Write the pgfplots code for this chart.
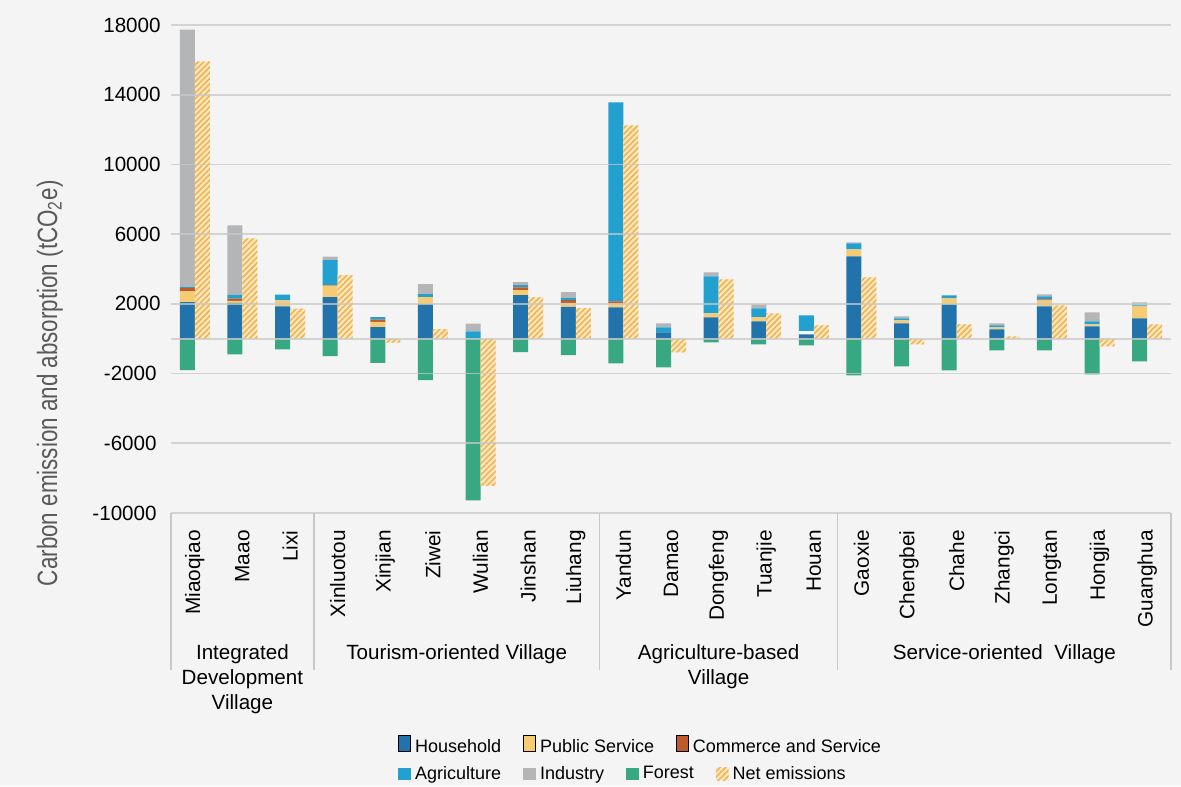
\documentclass[border=0pt]{standalone}
\usepackage{pgfplots}
\pgfplotsset{compat=1.18}
\usepackage{pgfplotstable}
\usepackage{fontspec}
\setmainfont{Liberation Sans}
\newfontfamily\condfont[FakeStretch=0.8]{Liberation Sans}
\usetikzlibrary{patterns.meta}

\definecolor{bg}{HTML}{F4F4F4}
\definecolor{hh}{HTML}{2273AB}
\definecolor{ps}{HTML}{F6CC72}
\definecolor{cs}{HTML}{BE5B2B}
\definecolor{ag}{HTML}{22A0CF}
\definecolor{ind}{HTML}{B4B5B7}
\definecolor{fo}{HTML}{38A883}
\definecolor{netbg}{HTML}{FDE8BC}
\definecolor{netln}{HTML}{EFB35A}
\definecolor{gridc}{HTML}{C8C8C8}
\definecolor{ylab}{HTML}{595959}

\pgfplotstableread{
x  H    G   PS  C   A     I     F     N
0  2100 0   610 190 60    14780 -1800 15910
1  2050 0   120 130 210   3990  -900  5760
2  1855 0   340 0   340   0     -610  1720
3  2390 0   650 40  1435  190   -995  3650
4  670  0   290 135 150   0     -1380 -230
5  1990 0   400 0   170   575   -2380 555
6  0    0   0   0   420   440   -9270 -8440
7  2505 0   290 150 135   170   -765  2390
8  1820 0   230 170 115   345   -940  1760
9  1800 0   210 135 11415 0     -1415 12240
10 365  0   0   0   290   230   -1645 -785
11 1225 0   230 0   2125  230   -210  3405
12 995  0   230 0   515   230   -325  1455
13 250  170 0   0   920   0     -380  765
14 4725 0   400 0   345   60    -2105 3520
15 880  0   170 0   115   115   -1590 -325
16 1970 0   345 0   170   0     -1820 825
17 535  0   115 0   115   115   -670  135
18 1855 0   345 60  170   115   -670  1910
19 710  0   115 0   170   515   -2045 -440
20 1165 0   690 0   60    170   -1300 825
}\data

\pgfplotsset{
  base/.style={
    width=500pt, height=244pt, scale only axis,
    at={(0,0)}, anchor=south west,
    xmin=-0.5, xmax=20.5, ymin=-10000, ymax=18000,
    axis line style={draw=none},
    scaled y ticks=false,
    font=\fontsize{10}{12}\selectfont,
    legend image code/.code={\fill[##1] (0pt,-3.2pt) rectangle (6.4pt,3.2pt);},
    legend style={draw=none, fill=none, inner sep=0pt,
      font=\fontsize{9}{10}\selectfont,
      /tikz/every even column/.append style={column sep=9pt}},
    legend cell align=left,
  }
}

\begin{document}
\begin{tikzpicture}
\path[use as bounding box, fill=bg] (-85.5pt,-136.5pt) rectangle (505pt,256.5pt);

% stacked positive emissions
\begin{axis}[base,
  ybar stacked, bar width=7.5pt, bar shift=-3.75pt,
  xtick=\empty, ytick=\empty,
  legend columns=3,
  legend style={at={(axis description cs:0.227,-0.4805)}, anchor=west},
]
\addplot[fill=hh, draw=none] table[x=x,y=H]{\data};
\addplot[fill=white, draw=none, forget plot] table[x=x,y=G]{\data};
\addplot[fill=ps, draw=none] table[x=x,y=PS]{\data};
\addplot[fill=cs, draw=none] table[x=x,y=C]{\data};
\addplot[fill=ag, draw=none, forget plot] table[x=x,y=A]{\data};
\addplot[fill=ind, draw=none, forget plot] table[x=x,y=I]{\data};
\legend{Household, Public Service, Commerce and Service}
\end{axis}

% forest and net emissions, grid, labels
\begin{axis}[base,
  clip=false, axis on top,
  ytick={-10000,-6000,-2000,2000,6000,10000,14000,18000},
  yticklabels={-10000\kern2pt,-6000\kern2pt,-2000\kern2pt,2000,6000,10000,14000,18000},
  extra y ticks={0}, extra y tick labels={},
  ymajorgrids,
  grid style={gridc, opacity=0.75, line width=0.8pt},
  major tick length=0pt,
  yticklabel style={inner sep=0pt, xshift=-5pt, font=\fontsize{10.3}{12}\selectfont},
  xtick={0,...,20},
  xticklabels={Miaoqiao,Maao,Lixi,Xinluotou,Xinjian,Ziwei,Wulian,Jinshan,Liuhang,Yandun,Damao,Dongfeng,Tuanjie,Houan,Gaoxie,Chengbei,Chahe,Zhangci,Longtan,Hongjia,Guanghua},
  xticklabel style={rotate=90, anchor=east, inner sep=0pt, font=\fontsize{10.4}{12}\selectfont},
  xticklabel shift=8.5pt,
  ylabel={\condfont Carbon emission and absorption (tCO\textsubscript{2}e)},
  every axis y label/.style={at={(axis description cs:-0.121,0.266)}, rotate=90, anchor=center, font=\fontsize{14}{16}\selectfont, color=ylab},
  legend columns=4,
  legend style={at={(axis description cs:0.227,-0.535)}, anchor=west},
]
\addlegendimage{fill=ag, draw=none}
\addlegendimage{fill=ind, draw=none}
\addplot[ybar, bar width=7.5pt, bar shift=-3.75pt, fill=fo, draw=none] table[x=x,y=F]{\data};
\addplot[ybar, bar width=7.5pt, bar shift=3.75pt, fill=netbg, draw=none,
  postaction={pattern={Lines[angle=45,distance=2pt,line width=0.8pt]}, pattern color=netln}] table[x=x,y=N]{\data};
\legend{Agriculture, Industry, Forest, Net emissions}

\draw[gridc, line width=0.8pt] (axis cs:-0.5,-10000) -- ++(0pt,-78.5pt);
\draw[gridc, line width=0.8pt] (axis cs:2.5,-10000) -- ++(0pt,-78.5pt);
\draw[gridc, line width=0.8pt] (axis cs:8.5,-10000) -- ++(0pt,-78.5pt);
\draw[gridc, line width=0.8pt] (axis cs:13.5,-10000) -- ++(0pt,-78.5pt);
\draw[gridc, line width=0.8pt] (axis cs:20.5,-10000) -- ++(0pt,-78.5pt);
\node[font=\fontsize{10.3}{12.5}\selectfont, align=center, anchor=north, inner sep=0pt] at ([yshift=-65.5pt]axis cs:1,-10000) {Integrated\\Development\\Village};
\node[font=\fontsize{10.3}{12.5}\selectfont, align=center, anchor=north, inner sep=0pt] at ([yshift=-65.5pt]axis cs:5.5,-10000) {Tourism-oriented Village};
\node[font=\fontsize{10.3}{12.5}\selectfont, align=center, anchor=north, inner sep=0pt] at ([yshift=-65.5pt]axis cs:11,-10000) {Agriculture-based\\Village};
\node[font=\fontsize{10.3}{12.5}\selectfont, align=center, anchor=north, inner sep=0pt] at ([yshift=-65.5pt]axis cs:17,-10000) {Service-oriented~~Village};
\end{axis}
\end{tikzpicture}
\end{document}
